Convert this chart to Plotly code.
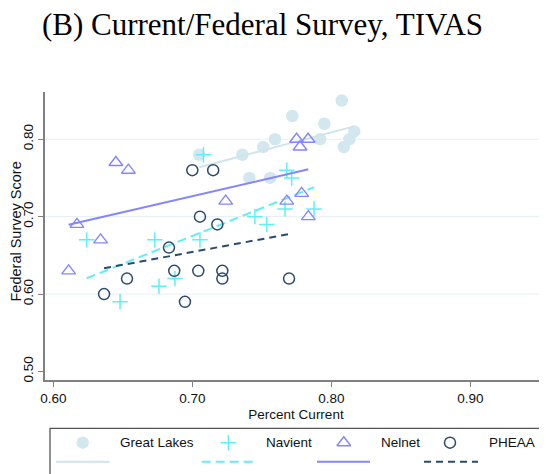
import numpy as np
import plotly.graph_objects as go

# Percent current (x) and federal survey score (y), by servicer
gl_x = [0.705, 0.736, 0.751, 0.7595, 0.741, 0.756, 0.772, 0.8075, 0.795, 0.792, 0.8165, 0.813, 0.809]
gl_y = [0.78, 0.78, 0.79, 0.80, 0.75, 0.75, 0.83, 0.85, 0.82, 0.80, 0.81, 0.80, 0.79]

nav_x = [0.624, 0.648, 0.673, 0.676, 0.6875, 0.7055, 0.708, 0.745, 0.7535, 0.7667, 0.768, 0.7715, 0.7876]
nav_y = [0.67, 0.59, 0.67, 0.61, 0.62, 0.67, 0.78, 0.70, 0.69, 0.71, 0.76, 0.75, 0.71]

nel_x = [0.611, 0.617, 0.634, 0.645, 0.654, 0.724, 0.768, 0.775, 0.7775, 0.7787, 0.7833, 0.7835]
nel_y = [0.63, 0.69, 0.67, 0.77, 0.76, 0.72, 0.72, 0.80, 0.79, 0.73, 0.80, 0.70]

ph_x = [0.6365, 0.653, 0.6832, 0.687, 0.6947, 0.700, 0.7043, 0.7055, 0.715, 0.718, 0.7216, 0.7216, 0.7696]
ph_y = [0.60, 0.62, 0.66, 0.63, 0.59, 0.76, 0.63, 0.70, 0.76, 0.69, 0.63, 0.62, 0.62]

servicers = ["Great Lakes", "Navient", "Nelnet", "PHEAA"]
x_ticks = [0.6, 0.7, 0.8, 0.9]
y_ticks = [0.5, 0.6, 0.7, 0.8]
grid_vals = [0.6, 0.7, 0.8]

FONT = "Liberation Sans, Arial, sans-serif"

styles = [
    dict(sym="circle", color="#d3e8ee", size=12.5, lw=0, dash="solid", lcolor="#cde5eb"),
    dict(sym="cross-thin", color="#5ef0f6", size=11, lw=1.5, dash="9px,5px", lcolor="#5ef0f6"),
    dict(sym="triangle-up-open", color="#8585ff", size=12, lw=1.4, dash="solid", lcolor="#8585ff"),
    dict(sym="circle-open", color="#2c4a6b", size=11, lw=1.5, dash="7px,5px", lcolor="#284b6e"),
]
series = [(gl_x, gl_y), (nav_x, nav_y), (nel_x, nel_y), (ph_x, ph_y)]

fig = go.Figure()

for name, (xs, ys), st in zip(servicers, series, styles):
    marker = dict(symbol=st["sym"], size=st["size"], color=st["color"])
    if st["lw"]:
        marker["line"] = dict(color=st["color"], width=st["lw"])
    fig.add_trace(go.Scatter(x=xs, y=ys, mode="markers", marker=marker,
                             name=name, showlegend=False))
    # linear fit over the range of the group
    b, a = np.polyfit(xs, ys, 1)
    fx = np.array([min(xs), max(xs)])
    fig.add_trace(go.Scatter(x=fx, y=a + b * fx, mode="lines",
                             line=dict(color=st["lcolor"], width=2, dash=st["dash"]),
                             showlegend=False, hoverinfo="skip"))

# legend keys drawn on a helper axis (units = page pixels)
key_x = [82.7, 228.4, 343.8, 450]
key_y = 442.7
line_x = [(56, 109.3), (201.7, 255), (317, 370), (424, 478)]
line_y = 461.7
text_x = [118.3, 264, 379, 487]

for name, st, kx, (lx0, lx1), tx in zip(servicers, styles, key_x, line_x, text_x):
    marker = dict(symbol=st["sym"], size=st["size"], color=st["color"])
    if st["lw"]:
        marker["line"] = dict(color=st["color"], width=st["lw"])
    fig.add_trace(go.Scatter(x=[kx], y=[key_y], xaxis="x2", yaxis="y2", mode="markers",
                             marker=marker, showlegend=False, hoverinfo="skip"))
    fig.add_trace(go.Scatter(x=[lx0, lx1], y=[line_y, line_y], xaxis="x2", yaxis="y2",
                             mode="lines", line=dict(color=st["lcolor"], width=2, dash=st["dash"]),
                             showlegend=False, hoverinfo="skip"))
    fig.add_annotation(x=tx, y=key_y, xref="x2", yref="y2", text=name, showarrow=False,
                       xanchor="left", yanchor="middle", font=dict(size=13.5, color="#111", family=FONT))

for g in grid_vals:
    fig.add_shape(type="line", xref="paper", x0=0, x1=1, yref="y", y0=g, y1=g,
                  line=dict(color="#e6eff3", width=1), layer="below")

# legend frame (bottom edge falls outside the page)
fig.add_shape(type="rect", xref="paper", yref="paper", x0=5 / 502, x1=497.7 / 502,
              y0=-0.1, y1=(474 - 428.3) / 382, line=dict(color="#555", width=1.3))

# y-axis title placed by hand
fig.add_annotation(text="Federal Survey Score", textangle=-90, showarrow=False,
                   xref="paper", yref="paper", x=(15.5 - 45) / 502, y=(474 - 232) / 382,
                   xanchor="center", yanchor="middle",
                   font=dict(size=14.5, family=FONT, color="#111"))

# the page body keeps its default 8px margin, so the figure is 8px smaller
fig.update_layout(
    width=539, height=466,
    margin=dict(l=37, r=0, t=84, b=0, autoexpand=False),
    paper_bgcolor="white", plot_bgcolor="white",
    title=dict(text="(B) Current/Federal Survey, TIVAS", x=254.5 / 539, xanchor="center",
               y=1 - 16 / 466, yanchor="middle",
               font=dict(family="Liberation Serif, Times New Roman, serif", size=31, color="black")),
    xaxis=dict(range=[0.594, 0.9552], tickvals=x_ticks, ticktext=[f"{v:.2f}" for v in x_ticks],
               showgrid=False, zeroline=False, showline=True, linecolor="#808080", linewidth=2,
               ticks="outside", ticklen=5, tickcolor="#808080", tickwidth=1, automargin=False,
               tickfont=dict(size=13.5, family=FONT, color="#111"),
               title=dict(text="Percent Current", font=dict(size=13.5, family=FONT, color="#111"),
                          standoff=4),
               anchor="y"),
    yaxis=dict(domain=[94 / 382, 1], range=[0.489, 0.861], tickvals=y_ticks,
               ticktext=[f"{v:.2f}" for v in y_ticks], tickangle=-90, automargin=False,
               showgrid=False, zeroline=False, showline=True, linecolor="#808080", linewidth=1.5,
               ticks="outside", ticklen=5, tickcolor="#808080", tickwidth=1,
               tickfont=dict(size=13.5, family=FONT, color="#111"),
               anchor="x"),
    xaxis2=dict(domain=[0, 1], range=[45, 547], visible=False, fixedrange=True, anchor="y2"),
    yaxis2=dict(domain=[0, 47 / 382], range=[474, 427], visible=False, fixedrange=True, anchor="x2"),
    showlegend=False,
)

fig.write_html("out.html")
